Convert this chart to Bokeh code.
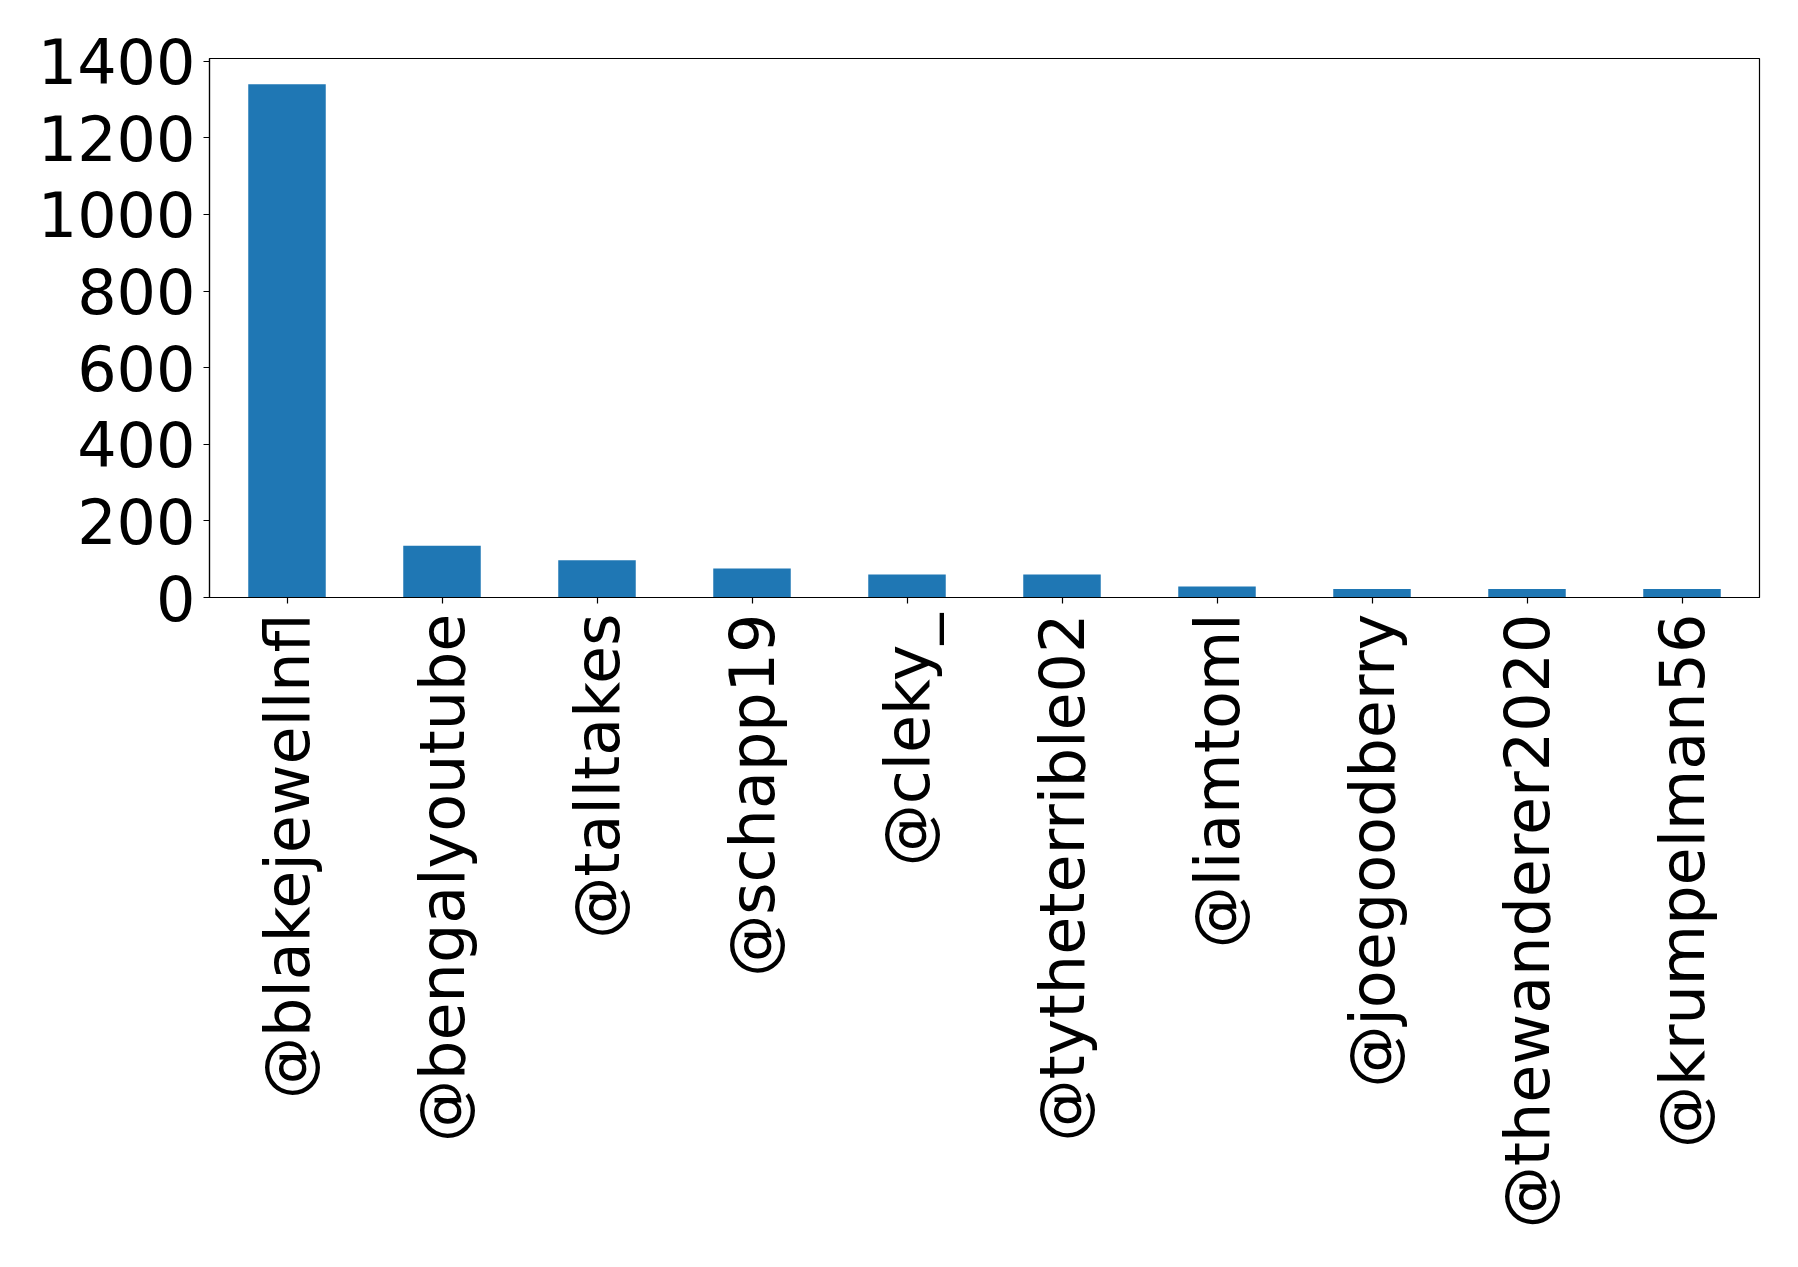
import math
from bokeh.plotting import figure
from bokeh.models import ColumnDataSource, FactorRange, Range1d, FixedTicker
from bokeh.embed import file_html
from bokeh.resources import INLINE

# Top accounts by mention count
accounts = [
    "@blakejewellnfl", "@bengalyoutube", "@talltakes", "@schapp19", "@cleky_",
    "@tytheterrible02", "@liamtoml", "@joegoodberry", "@thewanderer2020",
    "@krumpelman56",
]
counts = [1340, 135, 97, 76, 60, 60, 29, 22, 22, 22]
y_ticks = [0, 200, 400, 600, 800, 1000, 1200, 1400]

source = ColumnDataSource(data=dict(account=accounts, count=counts))

p = figure(
    x_range=FactorRange(factors=accounts, range_padding=0),
    y_range=Range1d(0, max(counts) * 1.05),
    width=1798, height=1267,
    min_border_left=209, min_border_right=39,
    min_border_top=58, min_border_bottom=670,
    output_backend="svg", toolbar_location=None,
)

p.vbar(x="account", top="count", width=0.5, source=source,
       fill_color="#1f77b4", line_color=None)

p.xgrid.grid_line_color = None
p.ygrid.grid_line_color = None
p.outline_line_color = "black"
p.outline_line_width = 1.2
p.background_fill_color = "white"
p.border_fill_color = "white"

for ax in (p.xaxis, p.yaxis):
    ax.major_label_text_font = "DejaVu Sans"
    ax.major_label_text_font_size = "62px"
    ax.major_label_text_color = "black"
    ax.axis_line_color = "black"
    ax.axis_line_width = 1.2
    ax.major_tick_line_color = "black"
    ax.major_tick_line_width = 1.2
    ax.major_tick_out = 6
    ax.major_tick_in = 0
    ax.minor_tick_line_color = None

p.yaxis.ticker = FixedTicker(ticks=y_ticks)
p.yaxis.major_label_standoff = 8
p.xaxis.major_label_orientation = math.pi / 2
p.xaxis.major_label_standoff = 10

open("out.html", "w").write(file_html(p, INLINE))
